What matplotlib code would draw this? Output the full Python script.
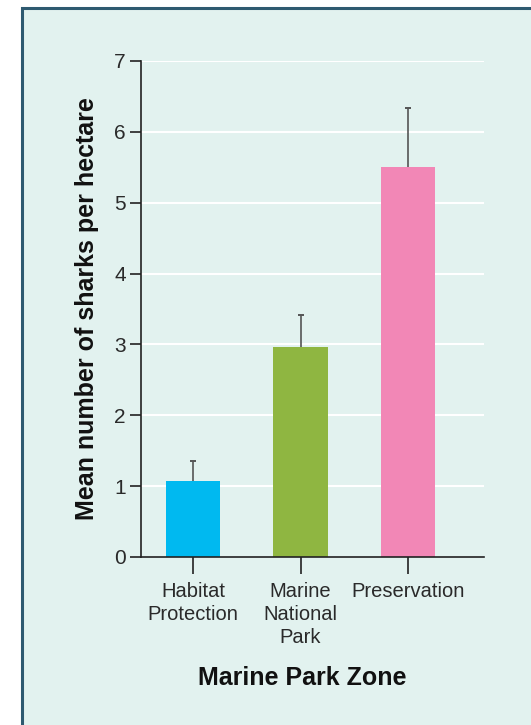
import matplotlib
matplotlib.use("Agg")
import matplotlib.pyplot as plt
from matplotlib.patches import Rectangle
import numpy as np

categories = ["Habitat\nProtection", "Marine\nNational\nPark", "Preservation"]
means = [1.07, 2.96, 5.51]
errors = [0.28, 0.46, 0.83]
colors = ["#00b9f0", "#8fb641", "#f287b6"]
yticks = [0, 1, 2, 3, 4, 5, 6, 7]

plt.rcParams['font.family'] = ['Liberation Sans', 'DejaVu Sans']

fig = plt.figure(figsize=(5.31, 7.25), dpi=100)
fig.patch.set_facecolor("white")
# panel
panel = Rectangle((22/531, -0.05), 1.1, (725-8)/725 + 0.05, transform=fig.transFigure,
                  facecolor="#e2f2ef", edgecolor="#2e5a70", linewidth=2.2, zorder=-10)
fig.patches.append(panel)

ax = fig.add_axes([141/531, 1-557/725, (484-141)/531, (557-61)/725])
ax.set_zorder(5)
ax.set_facecolor("none")
x = np.arange(len(categories))
ax.bar(x, means, width=0.51, color=colors, zorder=2)
tops = np.array(means) + np.array(errors)
ax.errorbar(x, means, yerr=[np.zeros(len(errors)), errors], fmt="none",
            ecolor="#555555", elinewidth=1.2, capsize=0, zorder=3)
ax.plot(x, tops, linestyle="none", marker="_", markersize=5, markeredgewidth=1.4,
        color="#555555", zorder=3)
ax.set_xlim(-0.484, 2.707)
ax.set_ylim(0, 7)
ax.set_yticks(yticks)
for t in yticks[1:]:
    ax.axhline(t, color="white", linewidth=1.5, zorder=1)
ax.set_xticks(x)
ax.set_xticklabels(categories, fontsize=14.5, color="#2a2a2a", linespacing=1.27, va="top")
ax.tick_params(axis="y", labelsize=15, length=8, width=1.2, color="#222222", labelcolor="#2a2a2a", pad=3)
ax.tick_params(axis="x", direction="out", length=12, width=1.2, color="#222222", pad=6)
for s in ["top", "right"]:
    ax.spines[s].set_visible(False)
for s in ["left", "bottom"]:
    ax.spines[s].set_color("#222222")
    ax.spines[s].set_linewidth(1.2)
ax.set_ylabel("Mean number of sharks per hectare", fontsize=18, fontweight="bold",
              color="#111111")
ax.yaxis.set_label_coords((87 - 141) / 343, 0.5)
ax.set_xlabel("Marine Park Zone", fontsize=18, fontweight="bold", color="#111111")
ax.xaxis.set_label_coords((302 - 141) / 343, -(678 - 557) / 496)
ax.xaxis.label.set_va("center")
ax.yaxis.label.set_va("center")

fig.savefig("out.png", dpi=100, facecolor=fig.get_facecolor())
